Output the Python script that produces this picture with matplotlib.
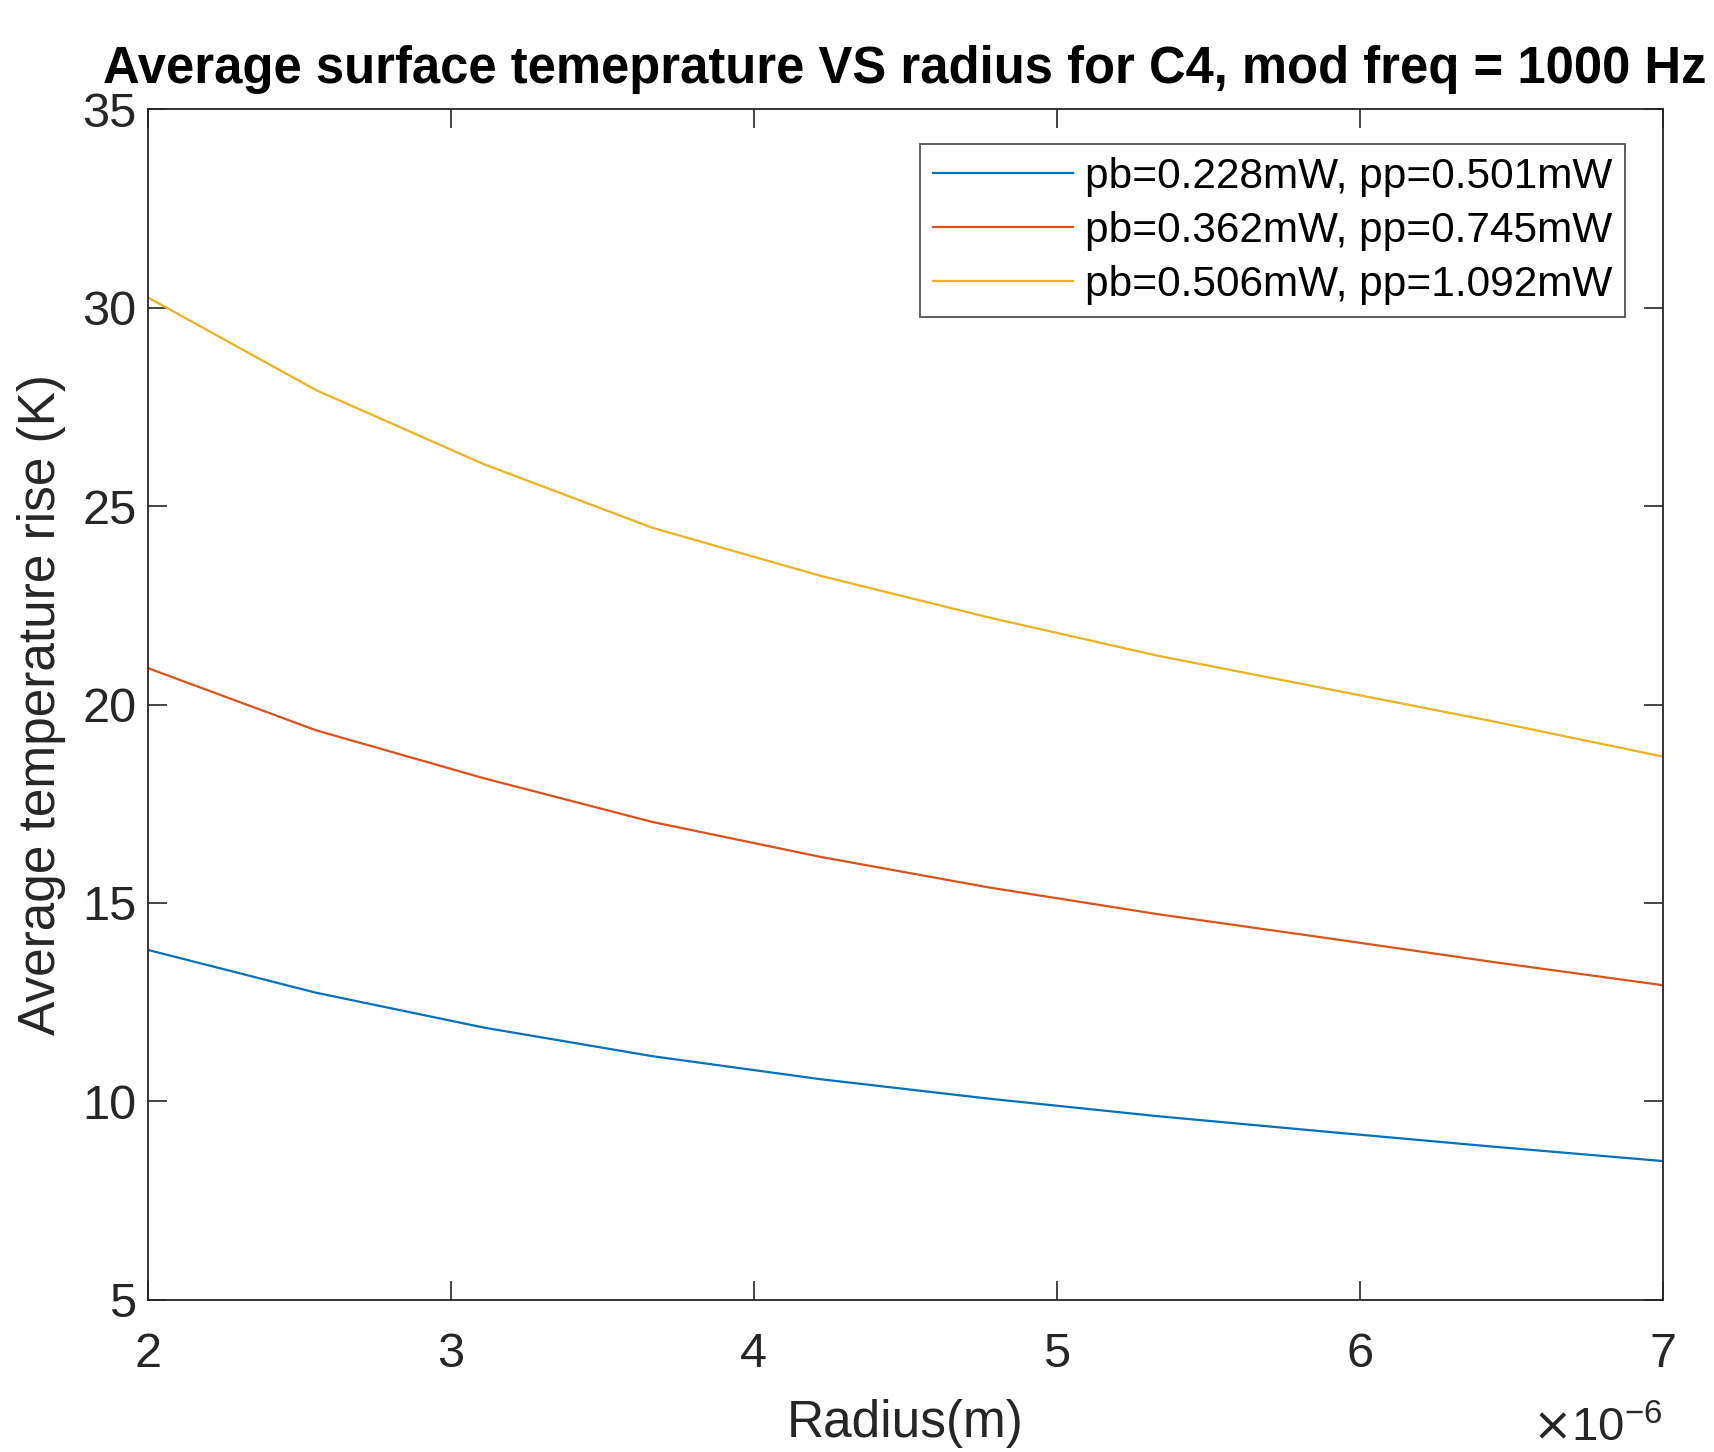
import numpy as np
import matplotlib
matplotlib.use('Agg')
import matplotlib.pyplot as plt
from matplotlib.ticker import FuncFormatter

plt.rcParams['font.family'] = ['Liberation Sans', 'DejaVu Sans']

# radius samples (m) and average temperature rise (K)
radius = [2.0e-6, 2.556e-6, 3.111e-6, 3.667e-6, 4.222e-6,
          4.778e-6, 5.333e-6, 5.889e-6, 6.444e-6, 7.0e-6]
temp_low = [13.82, 12.74, 11.86, 11.14, 10.56, 10.07, 9.63, 9.24, 8.86, 8.50]
temp_mid = [20.92, 19.35, 18.14, 17.04, 16.16, 15.39, 14.72, 14.12, 13.51, 12.93]
temp_high = [30.26, 27.92, 26.05, 24.45, 23.24, 22.19, 21.23, 20.40, 19.57, 18.69]

labels = ['pb=0.228mW, pp=0.501mW',
          'pb=0.362mW, pp=0.745mW',
          'pb=0.506mW, pp=1.092mW']
colors = ['#0072BD', '#D95319', '#EDB120']

fig = plt.figure(figsize=(17.14, 14.52), dpi=100)
ax = fig.add_axes([0.0861, 0.1047, 0.8839, 0.8202])

for y, lab, c in zip([temp_low, temp_mid, temp_high], labels, colors):
    ax.plot(radius, y, color=c, lw=1.6, label=lab)

ax.set_xlim(2e-6, 7e-6)
ax.set_ylim(5, 35)
ax.set_xticks([2e-6, 3e-6, 4e-6, 5e-6, 6e-6, 7e-6])
ax.set_yticks([5, 10, 15, 20, 25, 30, 35])
ax.xaxis.set_major_formatter(FuncFormatter(lambda v, p: f'{v * 1e6:g}'))

ax.tick_params(direction='in', length=14, width=1.2, top=True, right=True,
               labelsize=35, colors='#262626')
ax.tick_params(axis='x', pad=23)
ax.tick_params(axis='y', pad=8)
for s in ax.spines.values():
    s.set_color('#262626')
    s.set_linewidth(1.3)

ax.set_xlabel('Radius(m)', fontsize=37, color='#262626', labelpad=16)
ax.set_ylabel('Average temperature rise (K)', fontsize=37, color='#262626', labelpad=12)
ax.set_title('Average surface temeprature VS radius for C4, mod freq = 1000 Hz',
             fontsize=36.5, fontweight='bold', pad=19)

ax.text(1.0, -0.108, r'$\times\mathregular{10^{-6}}$', transform=ax.transAxes,
        ha='right', va='center', fontsize=34, color='#262626')

leg = ax.legend(loc='upper right', fontsize=30.5, frameon=True, fancybox=False,
                handlelength=3.3, handletextpad=0.3, borderpad=0.3,
                labelspacing=0.33, borderaxespad=0,
                bbox_to_anchor=(0.9755, 0.9706))
leg.get_frame().set_edgecolor('#262626')
leg.get_frame().set_linewidth(1.3)

fig.savefig('out.png', dpi=100, facecolor='white')
